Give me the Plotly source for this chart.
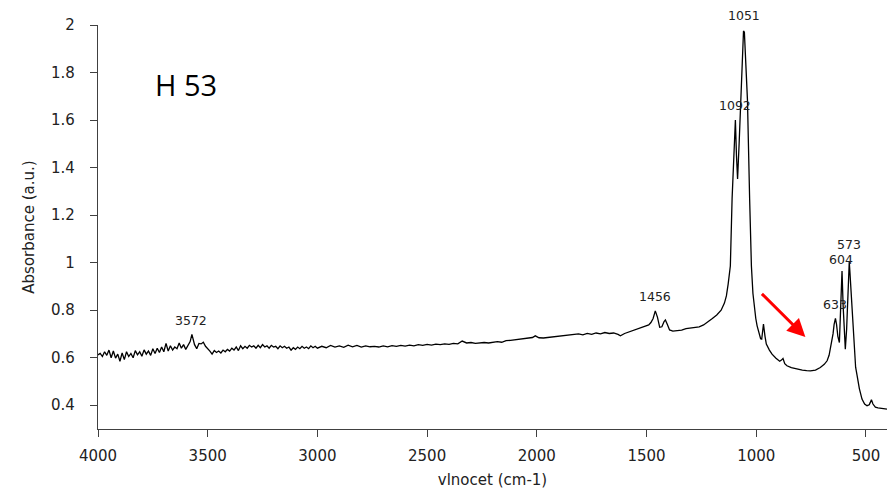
import plotly.graph_objects as go

# Wavenumbers (cm-1) and absorbance
wavenumber = [
    4000, 3990, 3980, 3970, 3960, 3950, 3940, 3930, 3920, 3910,
    3900, 3890, 3880, 3870, 3860, 3850, 3840, 3830, 3820, 3810,
    3800, 3790, 3780, 3770, 3760, 3750, 3740, 3730, 3720, 3710,
    3700, 3690, 3680, 3670, 3660, 3650, 3640, 3630, 3620, 3610,
    3600, 3590, 3580, 3572, 3560, 3550, 3540, 3530, 3520, 3510,
    3500, 3490, 3480, 3470, 3460, 3450, 3440, 3430, 3420, 3410,
    3400, 3390, 3380, 3370, 3360, 3350, 3340, 3330, 3320, 3310,
    3300, 3290, 3280, 3270, 3260, 3250, 3240, 3230, 3220, 3210,
    3200, 3190, 3180, 3170, 3160, 3150, 3140, 3130, 3120, 3110,
    3100, 3090, 3080, 3070, 3060, 3050, 3040, 3030, 3020, 3010,
    3000, 2980, 2960, 2940, 2920, 2900, 2880, 2860, 2840, 2820,
    2800, 2780, 2760, 2740, 2720, 2700, 2680, 2660, 2640, 2620,
    2600, 2580, 2560, 2540, 2520, 2500, 2480, 2460, 2440, 2420,
    2400, 2380, 2360, 2340, 2320, 2300, 2280, 2260, 2240, 2220,
    2200, 2180, 2160, 2140, 2120, 2100, 2080, 2060, 2040, 2020,
    2007, 1990, 1970, 1950, 1930, 1910, 1890, 1870, 1850, 1830,
    1810, 1790, 1770, 1750, 1730, 1710, 1690, 1670, 1650, 1630,
    1619, 1600, 1580, 1560, 1540, 1520, 1500, 1490, 1480, 1470,
    1460, 1450, 1440, 1430, 1420, 1414, 1405, 1395, 1380, 1360,
    1340, 1320, 1300, 1280, 1260, 1240, 1220, 1200, 1180, 1160,
    1145, 1136, 1128, 1118, 1110, 1100, 1095, 1090, 1085, 1078,
    1072, 1064, 1058, 1054, 1048, 1040, 1030, 1022, 1015, 1009,
    1002, 996, 988, 980, 975, 967, 960, 954, 940, 928,
    910, 893, 885, 878, 870, 860, 840, 814, 790, 770,
    753, 730, 708, 690, 677, 668, 659, 650, 645, 639,
    634, 628, 621, 616, 612, 609, 604, 598, 594, 588,
    582, 576, 573, 568, 563, 558, 553, 547, 540, 530,
    518, 506, 495, 485, 480, 475, 468, 457, 445, 430,
    415, 404,
]
absorbance = [
    0.612, 0.618, 0.605, 0.625, 0.610, 0.632, 0.600, 0.628, 0.598, 0.615,
    0.585, 0.620, 0.592, 0.625, 0.605, 0.618, 0.600, 0.630, 0.612, 0.625,
    0.606, 0.633, 0.615, 0.628, 0.610, 0.638, 0.618, 0.640, 0.622, 0.645,
    0.625, 0.660, 0.628, 0.650, 0.632, 0.645, 0.638, 0.662, 0.640, 0.655,
    0.635, 0.650, 0.668, 0.698, 0.655, 0.638, 0.660, 0.658, 0.665, 0.648,
    0.640, 0.628, 0.615, 0.630, 0.622, 0.628, 0.620, 0.632, 0.625, 0.635,
    0.628, 0.640, 0.632, 0.645, 0.630, 0.650, 0.638, 0.648, 0.640, 0.652,
    0.645, 0.650, 0.640, 0.652, 0.642, 0.655, 0.645, 0.650, 0.640, 0.652,
    0.645, 0.648, 0.638, 0.650, 0.642, 0.648, 0.640, 0.645, 0.632, 0.642,
    0.635, 0.645, 0.638, 0.648, 0.640, 0.645, 0.638, 0.650, 0.642, 0.648,
    0.640, 0.648, 0.642, 0.652, 0.645, 0.650, 0.644, 0.653, 0.646, 0.652,
    0.645, 0.650, 0.646, 0.648, 0.645, 0.650, 0.646, 0.651, 0.648, 0.652,
    0.649, 0.653, 0.650, 0.655, 0.652, 0.656, 0.653, 0.657, 0.655, 0.658,
    0.656, 0.660, 0.658, 0.670, 0.662, 0.664, 0.660, 0.662, 0.664, 0.662,
    0.666, 0.668, 0.665, 0.672, 0.673, 0.676, 0.677, 0.680, 0.682, 0.685,
    0.692, 0.684, 0.683, 0.685, 0.686, 0.690, 0.692, 0.694, 0.696, 0.698,
    0.700, 0.696, 0.702, 0.698, 0.704, 0.700, 0.706, 0.702, 0.704, 0.698,
    0.692, 0.702, 0.708, 0.716, 0.722, 0.726, 0.732, 0.738, 0.748, 0.765,
    0.797, 0.770, 0.728, 0.730, 0.752, 0.759, 0.740, 0.717, 0.712, 0.713,
    0.716, 0.722, 0.724, 0.726, 0.730, 0.738, 0.750, 0.765, 0.780, 0.800,
    0.830, 0.860, 0.910, 0.986, 1.270, 1.500, 1.600, 1.450, 1.352, 1.500,
    1.670, 1.850, 1.975, 1.970, 1.820, 1.685, 1.266, 0.986, 0.870, 0.804,
    0.765, 0.734, 0.700, 0.680, 0.678, 0.741, 0.690, 0.657, 0.632, 0.615,
    0.598, 0.585, 0.590, 0.597, 0.575, 0.566, 0.558, 0.552, 0.548, 0.546,
    0.545, 0.548, 0.559, 0.572, 0.587, 0.610, 0.650, 0.700, 0.740, 0.765,
    0.740, 0.690, 0.664, 0.780, 0.900, 0.965, 0.820, 0.680, 0.636, 0.720,
    0.880, 1.004, 0.960, 0.880, 0.790, 0.690, 0.608, 0.560, 0.524, 0.470,
    0.426, 0.405, 0.398, 0.402, 0.412, 0.423, 0.405, 0.392, 0.389, 0.386,
    0.385, 0.384,
]

# Peak labels (wavenumber, absorbance of label, vertical pixel shift)
peak_text = ["1051", "1092", "573", "604", "633", "1456", "3572"]
peak_x = [1055, 1095, 575, 613, 641, 1461, 3576]
peak_y = [1.98, 1.663, 1.078, 1.012, 0.822, 0.856, 0.757]
peak_shift = [14, 0, 0, 0, 0, 0, 0]

x_ticks = [4000, 3500, 3000, 2500, 2000, 1500, 1000, 500]
y_ticks = [0.4, 0.6, 0.8, 1.0, 1.2, 1.4, 1.6, 1.8, 2.0]
y_tick_text = ["0.4", "0.6", "0.8", "1", "1.2", "1.4", "1.6", "1.8", "2"]

fig = go.Figure()
fig.add_trace(go.Scatter(
    x=wavenumber, y=absorbance, mode="lines",
    line=dict(color="black", width=1.3), showlegend=False,
))

tick_font = dict(family="DejaVu Sans, sans-serif", size=15, color="#222222")

fig.update_layout(
    width=888, height=491,
    margin=dict(l=98, r=1, t=25, b=62),
    paper_bgcolor="white", plot_bgcolor="white",
    xaxis=dict(
        range=[4000, 404], tickvals=x_ticks, ticks="outside", ticklen=7,
        tickwidth=1.3, tickcolor="#404040", showline=True, linecolor="#404040",
        linewidth=1.3, showgrid=False, zeroline=False, tickfont=tick_font,
        ticklabelstandoff=6,
        title=dict(text="vlnocet (cm-1)", font=tick_font, standoff=10),
    ),
    yaxis=dict(
        range=[0.3, 2.0], tickvals=y_ticks, ticktext=y_tick_text, ticks="outside",
        ticklen=7, tickwidth=1.3, tickcolor="#404040", showline=True,
        linecolor="#404040", linewidth=1.3, showgrid=False, zeroline=False,
        tickfont=tick_font, ticklabelstandoff=12,
        title=dict(text="Absorbance (a.u.)", font=tick_font, standoff=12),
    ),
)

for t, px, py, sh in zip(peak_text, peak_x, peak_y, peak_shift):
    fig.add_annotation(x=px, y=py, text=t, showarrow=False, xanchor="center",
                       yanchor="middle", yshift=sh, borderpad=0,
                       font=dict(family="DejaVu Sans, sans-serif",
                                 size=12.5, color="#222222"))

fig.add_annotation(x=0.112, y=0.852, xref="paper", yref="paper", text="H 53",
                   showarrow=False, xanchor="center", yanchor="middle",
                   font=dict(family="Open Sans, sans-serif", size=29, color="black"))

# red arrow
fig.add_annotation(x=776, y=0.687, ax=981, ay=0.875, xref="x", yref="y",
                   axref="x", ayref="y", text="", showarrow=True,
                   arrowhead=2, arrowsize=1.2, arrowwidth=3, arrowcolor="#ff0000")

fig.write_html("out.html", config={"displayModeBar": False},
               post_script="document.body.style.margin='0';document.body.style.padding='0';")
